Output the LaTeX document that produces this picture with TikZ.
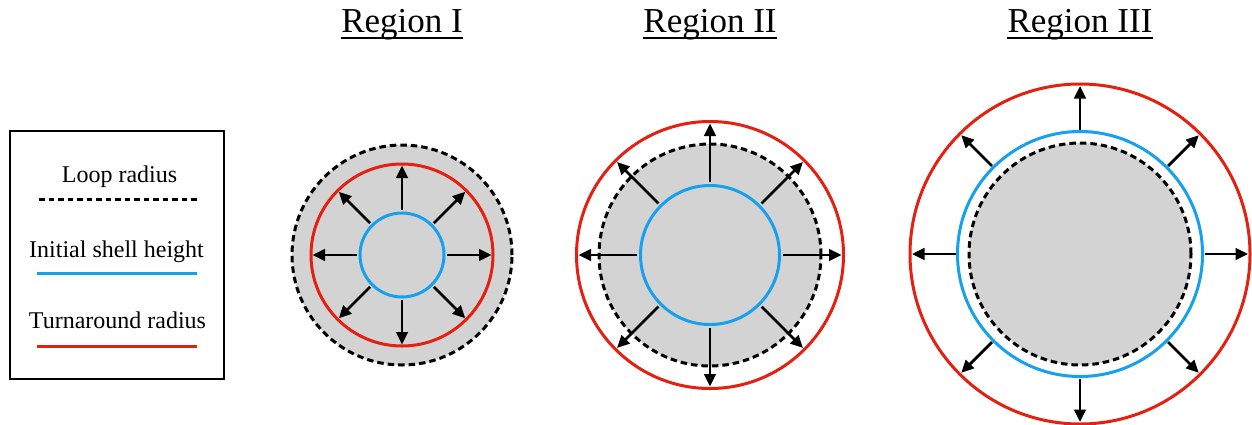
\documentclass[tikz,border=0pt]{standalone}
\usepackage{fontspec}
\setmainfont{Liberation Serif}
\usetikzlibrary{arrows.meta,calc}
\definecolor{shellred}{RGB}{228,32,18}
\definecolor{shellblue}{RGB}{22,160,238}
\definecolor{shellgray}{RGB}{211,211,211}
\begin{document}
\begin{tikzpicture}[x=1pt,y=-1pt,
  loopc/.style={fill=shellgray,draw=black,line width=3pt,dash pattern=on 6.5pt off 4pt},
  bluec/.style={draw=shellblue,line width=3pt},
  redc/.style={draw=shellred,line width=3pt},
  arr/.style={line width=2.8pt,-{Triangle[length=12.5pt,width=11.5pt]}},
  title/.style={font=\fontsize{35}{40}\selectfont,inner sep=0pt,anchor=base},
  legtext/.style={font=\fontsize{24}{28}\selectfont,inner sep=0pt,anchor=base}]
\useasboundingbox (0,0) rectangle (1252,424);
% legend
\node[draw,line width=2.2pt,minimum width=214pt,minimum height=248pt,inner sep=0pt] (leg) at (117,255) {};
\node[legtext] (l1) at (119.5,182) {Loop radius};
\node[legtext] (l2) at (116.5,257) {Initial shell height};
\node[legtext] (l3) at (117.5,328) {Turnaround radius};
\coordinate (d1a) at (39,199); \coordinate (d1b) at (200,199);
\coordinate (d2a) at (37,273); \coordinate (d2b) at (197,273);
\coordinate (d3a) at (37,346); \coordinate (d3b) at (197,346);
\draw[line width=3pt,dash pattern=on 5.5pt off 4pt] (d1a) -- (d1b);
\draw[draw=shellblue,line width=3pt] (d2a) -- (d2b);
\draw[draw=shellred,line width=3pt] (d3a) -- (d3b);
% centers
\coordinate (c1) at (402,255);
\coordinate (c2) at (710,255);
\coordinate (c3) at (1080,254);
% titles
\node[title] (t1) at (402,32) {Region I};
\node[title] (t2) at (710,32) {Region II};
\node[title] (t3) at (1080,32) {Region III};
\foreach \t in {t1,t2,t3}{
  \draw[line width=2pt] ($(\t.base west)+(0,5.5)$) -- ($(\t.base east)+(0,5.5)$);
}
% Region I
\draw[loopc] (c1) circle[radius=110pt];
\draw[redc] (c1) circle[radius=91pt];
\draw[bluec] (c1) circle[radius=42pt];
\foreach \a in {0,45,...,315}{
  \draw[arr] ($(c1)+(\a:45pt)$) -- ($(c1)+(\a:89.5pt)$);
}
% Region II
\draw[loopc] (c2) circle[radius=111pt];
\draw[redc] (c2) circle[radius=133.5pt];
\draw[bluec] (c2) circle[radius=69.5pt];
\foreach \a in {0,45,...,315}{
  \draw[arr] ($(c2)+(\a:73pt)$) -- ($(c2)+(\a:131.5pt)$);
}
% Region III
\draw[loopc] (c3) circle[radius=111pt];
\draw[redc] (c3) circle[radius=170pt];
\draw[bluec] (c3) circle[radius=122.5pt];
\foreach \a in {0,45,...,315}{
  \draw[arr] ($(c3)+(\a:124.5pt)$) -- ($(c3)+(\a:168pt)$);
}
\end{tikzpicture}
\end{document}
